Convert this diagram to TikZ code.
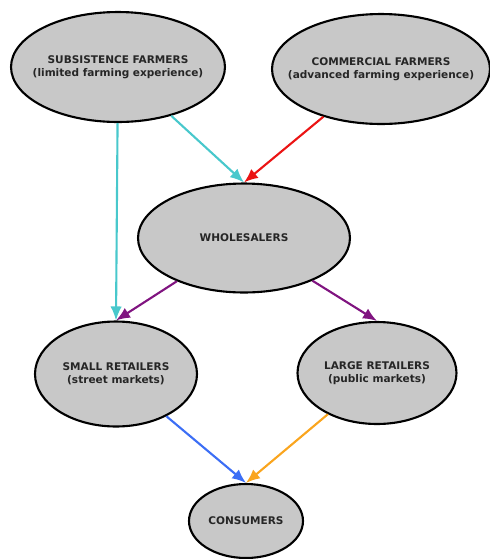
\documentclass[tikz,border=0pt]{standalone}
\usepackage{fontspec}
\setmainfont{DejaVu Sans}
\usepackage{tikz}
\usetikzlibrary{shapes.geometric,arrows.meta}
\definecolor{fillgris}{RGB}{200,200,200}
\definecolor{turquoise}{RGB}{72,200,204}
\definecolor{rouge}{RGB}{235,20,20}
\definecolor{violet}{RGB}{128,20,128}
\definecolor{bleu}{RGB}{60,110,245}
\definecolor{orange}{RGB}{250,165,30}
\tikzset{
  acteur/.style={ellipse, draw=black, line width=1.2pt, fill=fillgris, inner sep=0pt},
  texte/.style={align=center, text=black!85, font=\fontsize{6}{7.2}\selectfont\bfseries},
  fleche/.style={line width=1.2pt, -{Latex[length=0.28cm,width=0.23cm]}}
}

\begin{document}
\begin{tikzpicture}[x=0.02cm,y=-0.02cm]
\useasboundingbox (0,0) rectangle (490,559);
% ellipses
\node [acteur, minimum width=4.28cm, minimum height=2.2cm] (sub) at (118,67) {};
\node [acteur, minimum width=4.36cm, minimum height=2.2cm] (com) at (381,69) {};
\node [acteur, minimum width=4.24cm, minimum height=2.18cm] (gros) at (244,238) {};
\node [acteur, minimum width=3.24cm, minimum height=2.1cm] (petit) at (116,374) {};
\node [acteur, minimum width=3.18cm, minimum height=2.04cm] (grand) at (377,373) {};
\node [acteur, minimum width=2.28cm, minimum height=1.48cm] (conso) at (246,521) {};
% textes
\node [texte] (sub-t) at (sub) {SUBSISTENCE FARMERS\\(limited farming experience)};
\node [texte] (com-t) at (com) {COMMERCIAL FARMERS\\(advanced farming experience)};
\node [texte] (gros-t) at (gros) {WHOLESALERS};
\node [texte] (petit-t) at (petit) {SMALL RETAILERS\\(street markets)};
\node [texte] (grand-t) at (grand) {LARGE RETAILERS\\(public markets)};
\node [texte] (conso-t) at (conso) {CONSUMERS};
% fleches
\draw [fleche, turquoise] (sub) -- (petit.north);
\draw [fleche, turquoise] (sub) -- (gros.north);
\draw [fleche, rouge] (com) -- (gros.north);
\draw [fleche, violet] (gros) -- (petit.north);
\draw [fleche, violet] (gros) -- (grand.north);
\draw [fleche, bleu] (petit) -- (conso.north);
\draw [fleche, orange] (grand) -- (conso.north);
\end{tikzpicture}
\end{document}
